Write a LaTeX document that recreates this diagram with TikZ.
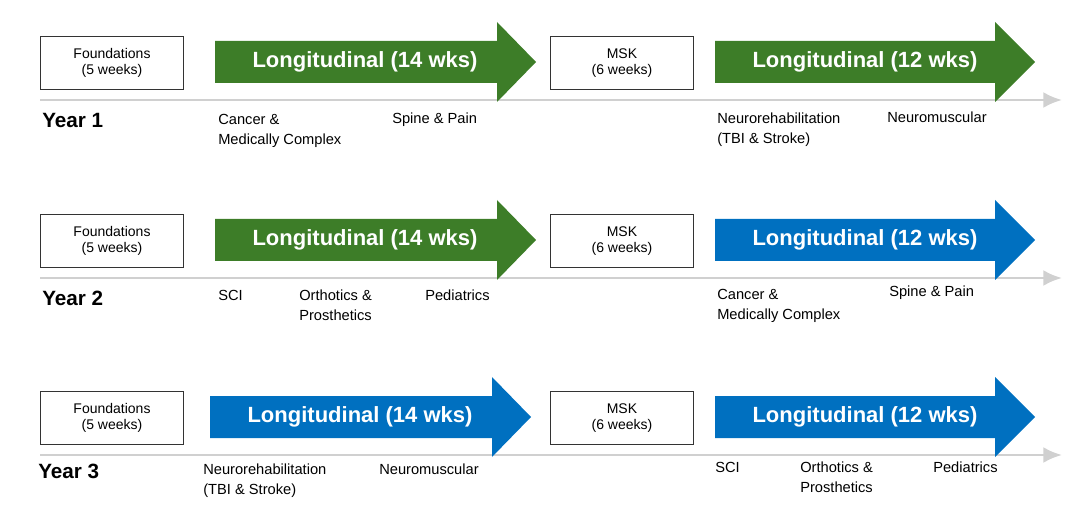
\documentclass[tikz,border=0pt]{standalone}
\usepackage{fontspec}
\setmainfont{Liberation Sans}
\usetikzlibrary{positioning,arrows.meta}
\definecolor{lgreen}{RGB}{61,125,40}
\definecolor{lblue}{RGB}{0,112,192}
\definecolor{tline}{RGB}{208,208,208}
\begin{document}
\begin{tikzpicture}[x=0.75pt,y=-0.75pt]
    \tikzstyle{block}=[draw=black!80,line width=0.6pt,minimum width=107pt,minimum height=40pt,inner sep=0pt,align=center,font=\fontsize{10.5}{12}\selectfont]
    \tikzstyle{long}=[text=white,font=\bfseries\fontsize{16.5}{18}\selectfont]
    \tikzstyle{topic}=[anchor=north west,inner sep=0pt,align=left,font=\fontsize{11}{15}\selectfont]
    \tikzstyle{year}=[anchor=west,inner sep=0pt,font=\bfseries\fontsize{15.5}{18}\selectfont]
    \useasboundingbox (0,0) rectangle (1090,524);

    % Timelines and boxes per year
    \foreach \r/\y/\fx in {1/63/40,2/241/40,3/418/40}{
      \draw[tline,line width=2.2pt,-{Latex[length=14pt,width=12pt]}] (\fx,\y+37) coordinate (T-\r) -- (1062,\y+37) coordinate (E-\r);
      \node[block] (F-\r) at (112,\y) {Foundations\\(5 weeks)};
      \node[block] (M-\r) at (622,\y) {MSK\\(6 weeks)};
    }
    % Longitudinal arrows
    \foreach \r/\y/\ax/\cc in {1/62/215/lgreen,2/240/215/lgreen,3/417/210/lblue}{
      \fill[\cc] (\ax,\y-21) -- (\ax+282,\y-21) -- (\ax+282,\y-40) -- (\ax+321,\y) -- (\ax+282,\y+40) -- (\ax+282,\y+21) -- (\ax,\y+21) -- cycle;
      \node[long] (L-\r) at (\ax+150,\y) {Longitudinal (14 wks)};
    }
    \foreach \r/\y/\cc in {1/62/lgreen,2/240/lblue,3/417/lblue}{
      \fill[\cc] (715,\y-21) -- (995,\y-21) -- (995,\y-40) -- (1035,\y) -- (995,\y+40) -- (995,\y+21) -- (715,\y+21) -- cycle;
      \node[long] (R-\r) at (865,\y) {Longitudinal (12 wks)};
    }

    % Year labels
    \node[year] (Y-1) at (42,120) {Year 1};
    \node[year] (Y-2) at (42,298) {Year 2};
    \node[year] (Y-3) at (38,471) {Year 3};

    % Year 1 topics
    \node[topic] (c1) at (218,114) {Cancer \&\\Medically Complex};
    \node[topic] (s1) at (392,113) {Spine \& Pain};
    \node[topic] (n1) at (717,113) {Neurorehabilitation\\(TBI \& Stroke)};
    \node[topic] (m1) at (887,112) {Neuromuscular};

    % Year 2 topics
    \node[topic] (a2) at (218,290) {SCI};
    \node[topic] (o2) at (299,290) {Orthotics \&\\Prosthetics};
    \node[topic] (p2) at (425,290) {Pediatrics};
    \node[topic] (c2) at (717,289) {Cancer \&\\Medically Complex};
    \node[topic] (s2) at (889,286) {Spine \& Pain};

    % Year 3 topics
    \node[topic] (n3) at (203,464) {Neurorehabilitation\\(TBI \& Stroke)};
    \node[topic] (m3) at (379,464) {Neuromuscular};
    \node[topic] (a3) at (715,462) {SCI};
    \node[topic] (o3) at (800,462) {Orthotics \&\\Prosthetics};
    \node[topic] (p3) at (933,462) {Pediatrics};
\end{tikzpicture}
\end{document}
